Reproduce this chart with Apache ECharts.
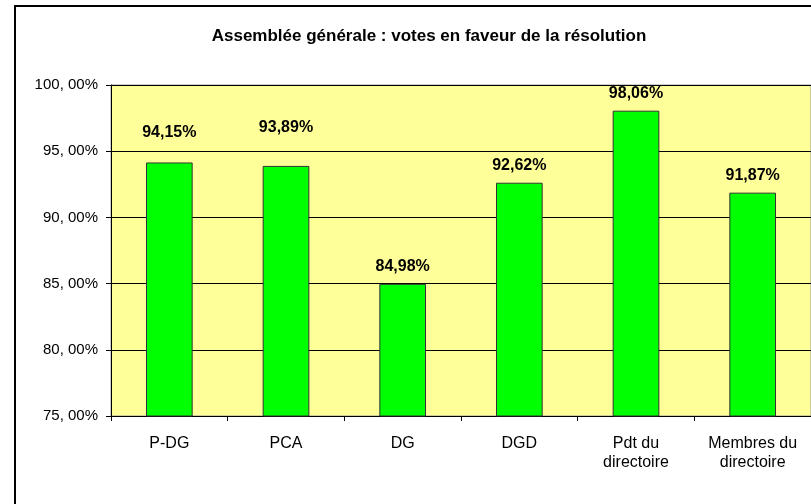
<!DOCTYPE html>
<html>
	<head>
		<meta charset="utf-8">
		<title>Assemblée générale</title>
		<script src="https://cdn.jsdelivr.net/npm/echarts@6/dist/echarts.min.js"></script>
		<style>
			html, body { margin: 0; padding: 0; background: #fff; }
			#mainCharts { width: 811px; height: 504px; }
		</style>
	</head>
	<body>
		<div id="mainCharts"></div>
		<script type="text/javascript">
		// données
		var categories = ['P-DG', 'PCA', 'DG', 'DGD', 'Pdt du\ndirectoire', 'Membres du\ndirectoire'];
		var votes = [94.15, 93.89, 84.98, 92.62, 98.06, 91.87];
		var yTicks = [75, 80, 85, 90, 95, 100];

		// étiquettes remontées à la main comme sur l'original
		var labelShift = { 0: -13, 1: -21 };

		var myChart = echarts.init(document.getElementById('mainCharts'));

		var option = {
			backgroundColor: '#fff',
			animation: false,
			textStyle: { fontFamily: 'Liberation Sans, Arial, sans-serif' },
			graphic: [{
				type: 'rect',
				z: -10,
				silent: true,
				shape: { x: 15, y: 6, width: 900, height: 600 },
				style: { fill: '#fff', stroke: '#000', lineWidth: 2 }
			}],
			title: {
				text: 'Assemblée générale : votes en faveur de la résolution',
				left: 424,
				top: 23,
				textAlign: 'center',
				textStyle: { fontSize: 17, fontWeight: 'bold', color: '#000', fontFamily: 'Liberation Sans, Arial, sans-serif' }
			},
			grid: {
				left: 111,
				right: -8,
				top: 85,
				bottom: 88,
				show: true,
				backgroundColor: '#FFFF99',
				borderColor: '#999',
				borderWidth: 1
			},
			xAxis: {
				type: 'category',
				data: categories,
				axisLine: { lineStyle: { color: '#000', width: 1 } },
				axisTick: { show: true, length: 5, lineStyle: { color: '#000' } },
				axisLabel: { color: '#000', fontSize: 16, margin: 18, lineHeight: 19, interval: 0 }
			},
			yAxis: {
				type: 'value',
				min: yTicks[0],
				max: yTicks[yTicks.length - 1],
				interval: 5,
				axisLine: { show: true, lineStyle: { color: '#000', width: 1 } },
				axisTick: { show: true, length: 5, lineStyle: { color: '#000' } },
				axisLabel: {
					color: '#000',
					fontSize: 15,
					margin: 13,
					formatter: function (v) { return v.toFixed(2).replace('.', ', ') + '%'; }
				},
				splitLine: { show: true, lineStyle: { color: '#000', width: 1 } }
			},
			series: [{
				type: 'bar',
				barWidth: '40%',
				data: votes.map(function (v, i) {
					var item = { value: v };
					if (labelShift[i] !== undefined) {
						item.label = { offset: [0, labelShift[i]] };
					}
					return item;
				}),
				itemStyle: { color: '#00FF00', borderColor: '#333', borderWidth: 1 },
				label: {
					show: true,
					position: 'top',
					distance: 9,
					color: '#000',
					fontSize: 16,
					fontWeight: 'bold',
					formatter: function (p) { return p.value.toFixed(2).replace('.', ',') + '%'; }
				}
			}]
		};

		myChart.setOption(option);
		</script>
	</body>
</html>
